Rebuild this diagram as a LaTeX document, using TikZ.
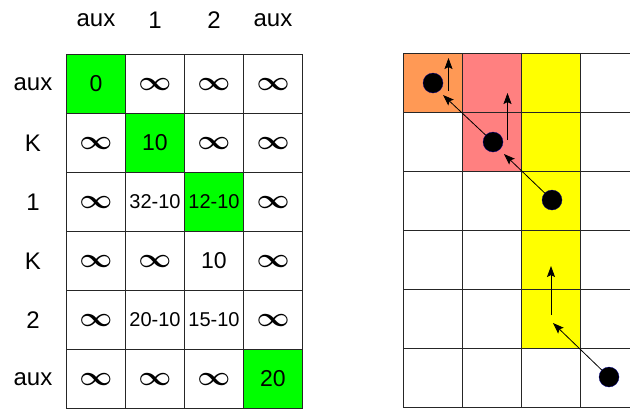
\documentclass[tikz,border=0pt]{standalone}
\usepackage{amsmath}
\usepackage{fontspec}
\setmainfont{Liberation Sans}
\usetikzlibrary{arrows.meta}
\definecolor{hit}{HTML}{00FF00}
\definecolor{first}{HTML}{FF9955}
\definecolor{second}{HTML}{FF8080}
\definecolor{third}{HTML}{FFFF00}
\newcommand\inff{\resizebox{33pt}{12pt}{$\boldsymbol{\infty}$}}
\newcommand\sm[1]{{\fontsize{20}{22}\selectfont #1}}

\begin{document}
\begin{tikzpicture}[x=1pt,y=-1pt,>={Stealth[length=11pt,width=8pt,inset=2pt]},
 lbl/.style={font=\fontsize{24}{26}\selectfont},
 cell/.style={draw=black!85,line width=1pt,minimum size=59pt,inner sep=0pt,
   font=\fontsize{23}{24}\selectfont},
 dot/.style={circle,fill=black,draw=blue!60!black,line width=0.3pt,minimum size=20pt,inner sep=0pt},
 move/.style={->,line width=0.8pt}]
 \useasboundingbox (0,0) rectangle (630,408);
 \clip (0,0) rectangle (630,408);
 % labels
 \foreach \t [count=\i] in {aux,1,2,aux}
   \node[lbl] (h\i) at ({66.5+59*\i-29.5},20) {\t};
 \foreach \t [count=\j] in {aux,K,1,K,2,aux}
   \node[lbl] (r\j) at (33,{54.5+59*\j-29.5}) {\t};
 % left table
 \foreach \i/\j in {1/1,2/2,3/3,4/6}
   \fill[hit] ({66.5+59*(\i-1)},{54.5+59*(\j-1)}) rectangle +(59,59);
 \foreach \row [count=\j] in {{0,\inff,\inff,\inff},{\inff,10,\inff,\inff},
   {\inff,\sm{32-10},\sm{12-10},\inff},{\inff,\inff,10,\inff},
   {\inff,\sm{20-10},\sm{15-10},\inff},{\inff,\inff,\inff,20}}
   \foreach \t [count=\i] in \row
     \node[cell] (c\i\j) at ({66.5+59*\i-29.5},{54.5+59*\j-29.5}) {\t};
 % right grid
 \fill[first] (403.5,53.5) rectangle +(59,59);
 \fill[second] (462.5,53.5) rectangle +(59,118);
 \fill[third] (521.5,53.5) rectangle +(59,295);
 \foreach \i in {1,...,4}
   \foreach \j in {1,...,6}
     \node[cell] (g\i\j) at ({403.5+59*\i-29.5},{53.5+59*\j-29.5}) {};
 % path
 \node[dot] (d1) at (433,83) {};
 \node[dot] (d2) at (493,142) {};
 \node[dot] (d3) at (552,200) {};
 \node[dot] (d4) at (609,377) {};
 \coordinate (t4) at (553,323);
 \coordinate (u3) at (551,315);
 \coordinate (w3) at (551,266);
 \coordinate (t3) at (504,154);
 \coordinate (u2) at (507.5,140);
 \coordinate (w2) at (507.5,93);
 \coordinate (t2) at (443,95);
 \coordinate (u1) at (448.5,91);
 \coordinate (w1) at (448.5,58);
 \draw[move] (d4) -- (t4);
 \draw[move] (u3) -- (w3);
 \draw[move] (d3) -- (t3);
 \draw[move] (u2) -- (w2);
 \draw[move] (d2) -- (t2);
 \draw[move] (u1) -- (w1);
\end{tikzpicture}
\end{document}
